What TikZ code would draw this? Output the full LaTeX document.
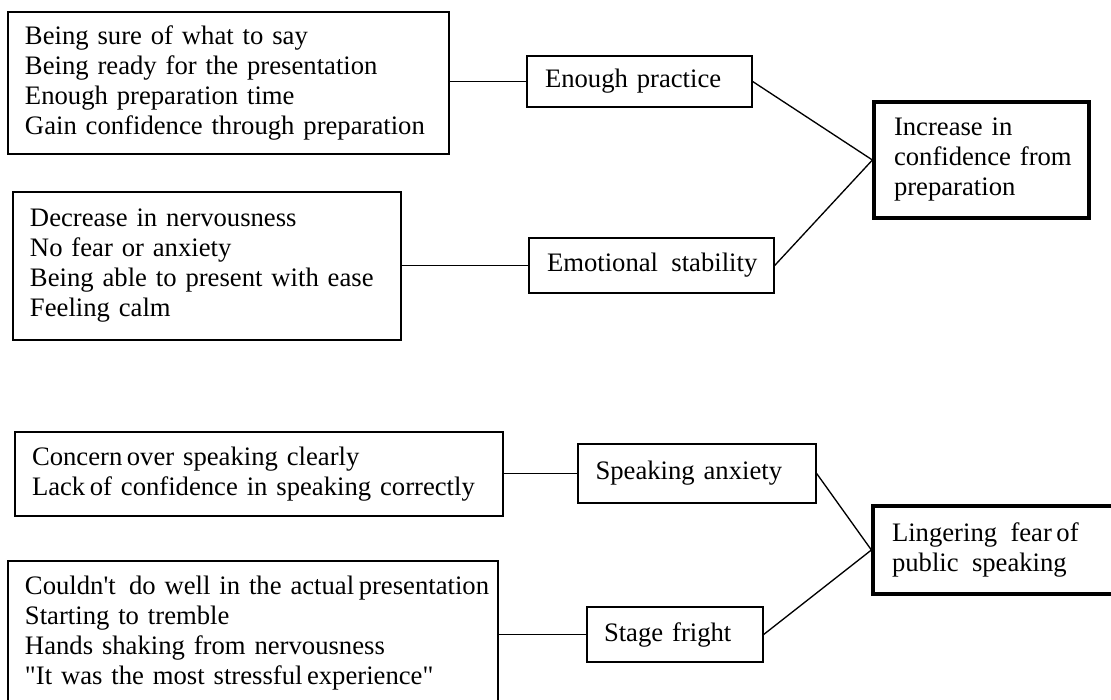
\documentclass[tikz,border=0pt]{standalone}
\usepackage{fontspec}
\setmainfont{Liberation Serif}
\newcommand{\tsp}{\hspace{0.17em}}
\newcommand{\dsp}{\hspace{0.5em}}
\begin{document}
\begin{tikzpicture}[x=0.75pt,y=-0.75pt,
  box/.style={draw, line width=1pt, inner sep=0pt, align=left,
    font=\fontsize{20}{22.5}\selectfont},
  keybox/.style={box, line width=2.4pt},
  link/.style={line width=1pt}]
\useasboundingbox (0,0) rectangle (1111,700);

% top group
\node[box, minimum width=330.75pt, minimum height=106.5pt, text width=305.25pt] (A) at (228.5,83)
  {\mbox{Being sure of what to say}\\\mbox{Being ready for the presentation}\\\mbox{Enough preparation time}\\\mbox{Gain confidence through preparation}};
\node[box, minimum width=168.75pt, minimum height=38.25pt, text width=141.75pt] (EP) at (639.5,81.5)
  {\mbox{Enough practice}};
\node[box, minimum width=291pt, minimum height=111pt, text width=265.5pt] (B) at (207,266)
  {\mbox{Decrease in nervousness}\\\mbox{No fear or anxiety}\\\mbox{Being able to present with ease}\\\mbox{Feeling calm}};
\node[box, minimum width=183.75pt, minimum height=41.25pt, text width=156.75pt] (ES) at (651.5,265.5)
  {\mbox{Emotional\dsp stability}};
\node[keybox, minimum width=161.25pt, minimum height=87pt, text width=131.25pt] (Inc) at (981.5,160)
  {\mbox{Increase in}\\\mbox{confidence from}\\\mbox{preparation}};

% bottom group
\node[box, minimum width=366pt, minimum height=63pt, text width=340.5pt] (C) at (259,474)
  {\mbox{Concern\tsp over speaking clearly}\\\mbox{Lack\tsp of confidence in speaking correctly}};
\node[box, minimum width=178.5pt, minimum height=44.25pt, text width=152.25pt] (SA) at (697,473.5)
  {\mbox{Speaking anxiety}};
\node[box, minimum width=367.5pt, minimum height=108pt, text width=342pt] (D) at (253,633)
  {\mbox{Couldn\textquotesingle t\dsp do well in the actual\tsp presentation}\\\mbox{Starting to tremble}\\\mbox{Hands shaking from nervousness}\\\mbox{\textquotedbl It was the most stressful\tsp experience\textquotedbl}};
\node[box, minimum width=132pt, minimum height=41.25pt, text width=106.5pt] (SF) at (675,634.5)
  {\mbox{Stage fright}};
\node[keybox, minimum width=181.5pt, minimum height=66pt, text width=153pt] (Ling) at (994,550)
  {\mbox{Lingering\dsp fear\tsp of}\\\mbox{public\dsp speaking}};

% connectors
\draw[link] (EP.west -| A.east) -- (EP.west);
\draw[link] (ES.west -| B.east) -- (ES.west);
\draw[link] (SA.west -| C.east) -- (SA.west);
\draw[link] (SF.west -| D.east) -- (SF.west);
\draw[link] (EP.east) -- (Inc.west);
\draw[link] (ES.east) -- (Inc.west);
\draw[link] (SA.east) -- (Ling.west);
\draw[link] (SF.east) -- (Ling.west);
\end{tikzpicture}
\end{document}
